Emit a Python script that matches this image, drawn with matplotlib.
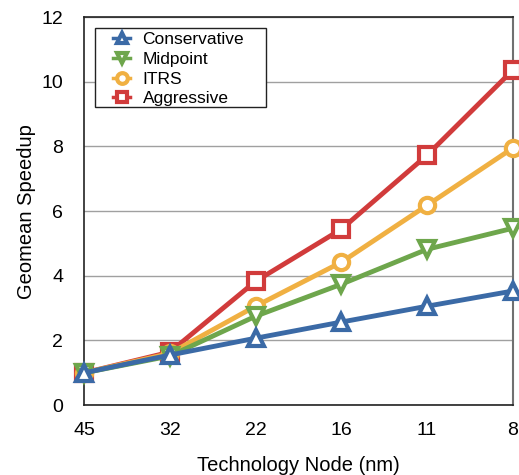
import matplotlib
matplotlib.use('Agg')
import matplotlib.pyplot as plt
from matplotlib.patches import Rectangle

nodes = ['45', '32', '22', '16', '11', '8']
conservative = [1.0, 1.55, 2.07, 2.57, 3.06, 3.53]
midpoint = [1.0, 1.52, 2.75, 3.74, 4.82, 5.47]
itrs = [1.0, 1.60, 3.06, 4.42, 6.18, 7.95]
aggressive = [1.0, 1.64, 3.83, 5.44, 7.73, 10.36]

plt.rcParams['font.family'] = ['Liberation Sans', 'DejaVu Sans']

fig = plt.figure(figsize=(5.19, 4.75), dpi=100)
ax = fig.add_axes([0.162, 0.147, 0.826, 0.817])

x = list(range(len(nodes)))
series = [
	('Aggressive', aggressive, '#d13b3b', 's'),
	('ITRS', itrs, '#f0b042', 'o'),
	('Midpoint', midpoint, '#6ea64c', 'v'),
	('Conservative', conservative, '#3b6aa6', '^'),
]
handles = {}
for name, vals, col, mk in series:
	h, = ax.plot(x, vals, color=col, lw=3.5, marker=mk, ms=11, mfc='white',
		mec=col, mew=3, label=name, clip_on=False, zorder=3)
	handles[name] = h

ax.set_xlim(0, 5)
ax.set_ylim(0, 12)
ax.set_yticks(range(0, 13, 2))
ax.set_xticks(x)
ax.set_xticklabels(nodes)
ax.tick_params(length=0, labelsize=14, pad=12)
ax.tick_params(axis='y', pad=15)
ax.grid(axis='y', color='#a0a0a0', lw=1)
ax.set_axisbelow(True)
for s in ['left', 'top', 'bottom']:
	ax.spines[s].set_color('#222222')
	ax.spines[s].set_linewidth(1.2)
ax.spines['right'].set_color('#707070')
ax.spines['right'].set_linewidth(1.5)

ax.set_xlabel('Technology Node (nm)', fontsize=14.5, labelpad=12)
ax.set_ylabel('Geomean Speedup', fontsize=14.5, labelpad=4)

# legend without its own frame; the box is drawn separately
order = ['Conservative', 'Midpoint', 'ITRS', 'Aggressive']
leg = ax.legend([handles[n] for n in order], order, loc='upper left',
	bbox_to_anchor=(0.0676, 0.961), fontsize=12.5, frameon=False,
	handlelength=1.0, handletextpad=0.7, borderpad=0,
	labelspacing=0.26, borderaxespad=0, markerscale=0.7)
for line in leg.get_lines():
	line.set_linewidth(2.5)
ax.add_patch(Rectangle((0.0256, 0.768), 0.398, 0.204, transform=ax.transAxes,
	fill=True, facecolor='white', edgecolor='#222222', lw=1, zorder=4))
leg.set_zorder(5)

fig.savefig('out.png', dpi=100)
